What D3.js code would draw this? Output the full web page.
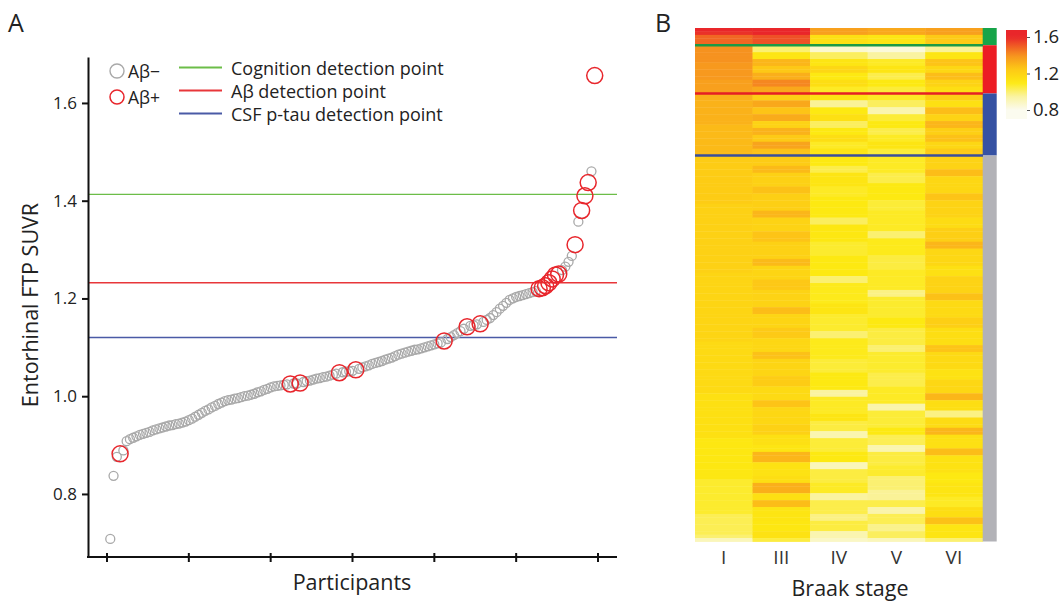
<!DOCTYPE html>
<html>
<head>
<meta charset="utf-8">
<script src="https://cdn.jsdelivr.net/npm/d3@7"></script>
<style>
  body { margin: 0; background: #fff; font-family: "Open Sans", sans-serif; }
</style>
</head>
<body>
<div id="container"></div>
<script>
// ---- panel A data: entorhinal FTP SUVR, participants sorted ascending
let suvr = [
  0.708, 0.837, 0.876, 0.882, 0.889, 0.908, 0.912, 0.915, 0.918, 0.921,
  0.923, 0.925, 0.927, 0.930, 0.932, 0.934, 0.936, 0.938, 0.940, 0.941,
  0.943, 0.944, 0.946, 0.948, 0.951, 0.954, 0.958, 0.962, 0.966, 0.970,
  0.973, 0.977, 0.980, 0.984, 0.987, 0.990, 0.992, 0.993, 0.995, 0.996,
  0.998, 1.000, 1.001, 1.003, 1.005, 1.008, 1.010, 1.013, 1.015, 1.018,
  1.020, 1.021, 1.022, 1.023, 1.024, 1.025, 1.026, 1.026, 1.027, 1.029,
  1.031, 1.032, 1.034, 1.036, 1.037, 1.039, 1.040, 1.042, 1.044, 1.046,
  1.048, 1.049, 1.050, 1.051, 1.052, 1.054, 1.056, 1.059, 1.061, 1.063,
  1.066, 1.068, 1.070, 1.072, 1.075, 1.077, 1.079, 1.082, 1.085, 1.087,
  1.089, 1.091, 1.093, 1.095, 1.096, 1.098, 1.100, 1.102, 1.104, 1.106,
  1.108, 1.110, 1.113, 1.117, 1.121, 1.125, 1.129, 1.133, 1.138, 1.142,
  1.144, 1.145, 1.147, 1.148, 1.152, 1.156, 1.160, 1.166, 1.172, 1.179,
  1.185, 1.191, 1.197, 1.200, 1.203, 1.205, 1.207, 1.209, 1.211, 1.213,
  1.215, 1.220, 1.222, 1.226, 1.232, 1.240, 1.248, 1.250, 1.258, 1.265,
  1.275, 1.287, 1.310, 1.357, 1.380, 1.410, 1.437, 1.460, 1.656
];
// participant numbers (1-based) that are amyloid positive
let abPositive = [4, 56, 59, 71, 76, 103, 110, 114, 132, 133, 134, 135, 136, 137, 138, 143, 145, 146, 147, 149];

let detectionLabels = ["Cognition detection point", "Aβ detection point", "CSF p-tau detection point"];
let detectionValues = [1.413, 1.232, 1.12];
let yTicks = [0.8, 1.0, 1.2, 1.4, 1.6];
let xTicks = [0, 25, 50, 75, 100, 125, 150];

// ---- panel B data: run lengths [rows, SUVR] per Braak stage column, top row = highest
let braakStages = ["I", "III", "IV", "V", "VI"];
let heatI = [[1,1.62],[1,1.58],[3,1.48],[5,1.40],[5,1.38],[4,1.36],[9,1.31],[9,1.29],[14,1.23],[20,1.21],
  [20,1.19],[15,1.17],[13,1.14],[12,1.11],[10,1.07],[6,1.03],[1,1.0],[1,0.9]];
let heatIII = [[1,1.62],[1,1.6],[3,1.52],[2,1.0],[2,1.12],[2,1.3],[2,1.25],[2,1.32],[2,1.42],[2,1.34],
  [2,1.22],[2,1.34],[2,1.26],[2,1.33],[2,1.2],[2,1.31],[2,1.24],[2,1.35],[2,1.27],
  [3,1.23],[2,1.29],[4,1.21],[2,1.27],[5,1.22],[2,1.3],[4,1.2],[3,1.26],[5,1.21],[2,1.29],[4,1.19],[3,1.25],
  [5,1.2],[2,1.28],[4,1.19],[3,1.24],[4,1.18],[2,1.27],[5,1.19],[3,1.23],[4,1.17],[2,1.26],[5,1.18],[3,1.21],
  [3,1.14],[2,1.12],[3,1.3],[4,1.13],[2,1.15],[3,1.32],[2,1.14],[2,1.28],[4,1.12],[3,1.11],[2,1.13],[1,1.05]];
let heatIV = [[2,1.36],[3,1.14],[2,0.86],[2,1.02],[2,1.12],[2,1.18],[2,1.1],[2,1.15],[2,1.08],
  [2,1.12],[2,0.96],[2,1.1],[2,1.14],[2,1.02],[2,1.1],[2,1.15],[2,1.08],[2,1.12],
  [3,1.1],[2,1.04],[4,1.12],[3,1.08],[6,1.1],[2,1.02],[5,1.11],[4,1.07],[6,1.1],[2,1.0],[6,1.09],[3,1.12],
  [5,1.07],[2,1.0],[6,1.09],[4,1.06],[5,1.1],[2,0.95],[5,1.08],[2,1.12],[3,1.05],[2,0.92],[4,1.06],[3,1.1],
  [2,0.9],[4,1.05],[3,1.08],[2,0.95],[4,1.04],[2,0.98],[3,1.05],[2,0.92],[1,0.88]];
let heatV = [[2,1.34],[3,1.12],[2,0.84],[2,0.95],[2,1.08],[2,1.12],[2,1.04],[2,1.1],[2,1.06],
  [2,1.08],[2,1.02],[2,0.92],[2,1.06],[2,1.1],[2,1.04],[2,1.08],[2,1.12],[2,1.06],
  [5,1.08],[3,1.04],[5,1.1],[3,1.06],[6,1.08],[2,1.0],[5,1.09],[4,1.05],[6,1.08],[2,0.98],[6,1.07],[3,1.1],
  [5,1.05],[2,1.0],[6,1.07],[4,1.04],[5,1.08],[2,0.93],[5,1.06],[2,1.1],[3,1.03],[2,0.92],[4,1.05],[3,1.07],
  [4,1.0],[3,0.96],[2,1.04],[2,0.93],[3,1.03],[2,0.97],[2,1.02],[1,0.9]];
let heatVI = [[2,1.36],[3,1.24],[2,0.96],[2,1.12],[2,1.26],[2,1.18],[2,1.28],[2,1.2],[2,1.15],
  [2,1.22],[2,1.14],[2,1.28],[2,1.2],[2,1.3],[2,1.22],[2,1.27],[2,1.18],[2,1.24],
  [4,1.2],[2,1.28],[5,1.18],[2,1.26],[5,1.2],[3,1.16],[4,1.22],[2,1.3],[5,1.18],[3,1.14],[5,1.2],[2,1.27],
  [5,1.17],[3,1.22],[5,1.15],[2,1.26],[5,1.17],[3,1.13],[4,1.18],[2,1.3],[3,1.15],[2,0.98],[3,1.16],[2,1.3],
  [4,1.14],[2,1.28],[5,1.13],[3,1.1],[4,1.12],[3,1.08],[3,1.15],[2,1.27],[4,1.12],[1,1.0]];
// detection group of each row block (top to bottom)
let groupNames = ["cognition", "abeta", "ptau", "none"];
let groupRows = [5, 14, 18, 112];
let colorbarTicks = [0.8, 1.2, 1.6];

// ---- styles
let lineColors = ["#6cbd48", "#e8363a", "#4a5aa6"];
let heatLineColors = ["#1c9a45", "#e51f26", "#3a4f9c"];
let groupColors = { cognition: "#17a449", abeta: "#ec1c24", ptau: "#3652a3", none: "#b2b2b7" };

let width = 1060;
let height = 604;

let svg = d3.select("#container")
  .append("svg")
  .attr("width", width)
  .attr("height", height)
  .style("font-family", "'Open Sans', sans-serif");

// ================= panel A =================
let x = d3.scaleLinear().domain([0, 150]).range([107, 598]);
let y = d3.scaleLinear().domain([0.671, 1.694]).range([557, 57]);

svg.append("text").attr("x", 8).attr("y", 32).text("A")
  .style("font-size", "25px").style("fill", "#222");

// detection lines
svg.selectAll(".detline").data(detectionValues).enter().append("line")
  .attr("class", "detline")
  .attr("x1", 88).attr("x2", 617)
  .attr("y1", d => y(d)).attr("y2", d => y(d))
  .attr("stroke", (d, i) => lineColors[i])
  .attr("stroke-width", 1.4);

let points = suvr.map(function (v, i) {
  return { id: i + 1, value: v, pos: abPositive.indexOf(i + 1) >= 0 };
});

svg.selectAll(".neg").data(points.filter(d => !d.pos)).enter().append("circle")
  .attr("class", "neg")
  .attr("cx", d => x(d.id)).attr("cy", d => y(d.value))
  .attr("r", 4.5)
  .attr("fill", "none")
  .attr("stroke", "#a9a9a9")
  .attr("stroke-width", 1.3);

svg.selectAll(".pos").data(points.filter(d => d.pos)).enter().append("circle")
  .attr("class", "pos")
  .attr("cx", d => x(d.id)).attr("cy", d => y(d.value))
  .attr("r", 8)
  .attr("fill", "none")
  .attr("stroke", "#e8262c")
  .attr("stroke-width", 1.5);

// y axis
let yAxis = svg.append("g")
  .attr("transform", "translate(88,0)")
  .call(d3.axisLeft(y).tickValues(yTicks).tickFormat(d3.format(".1f")).tickSize(6).tickSizeOuter(0).tickPadding(5));
yAxis.select(".domain").attr("stroke", "#111").attr("stroke-width", 2);
yAxis.selectAll(".tick line").attr("stroke", "#111").attr("stroke-width", 2);
yAxis.selectAll(".tick text").style("font-size", "17px").style("fill", "#222")
  .style("font-family", "'Open Sans', sans-serif");

// x axis
svg.append("line").attr("x1", 87).attr("x2", 617).attr("y1", 557).attr("y2", 557)
  .attr("stroke", "#111").attr("stroke-width", 2);
svg.selectAll(".xtick").data(xTicks).enter().append("line")
  .attr("class", "xtick")
  .attr("x1", d => x(d)).attr("x2", d => x(d))
  .attr("y1", 553).attr("y2", 562)
  .attr("stroke", "#111").attr("stroke-width", 2);

svg.append("text").attr("x", 352).attr("y", 590).attr("text-anchor", "middle")
  .text("Participants").style("font-size", "21.5px").style("fill", "#222");
svg.append("text").attr("transform", "translate(38,305) rotate(-90)").attr("text-anchor", "middle")
  .text("Entorhinal FTP SUVR").style("font-size", "21.5px").style("fill", "#222");

// legend
svg.append("circle").attr("cx", 117).attr("cy", 71).attr("r", 7).attr("fill", "none")
  .attr("stroke", "#a9a9a9").attr("stroke-width", 1.4);
svg.append("circle").attr("cx", 117).attr("cy", 97).attr("r", 7).attr("fill", "none")
  .attr("stroke", "#e8262c").attr("stroke-width", 1.5);
svg.append("text").attr("x", 128).attr("y", 71).attr("dominant-baseline", "central")
  .text("Aβ−").style("font-size", "17.5px").style("fill", "#222");
svg.append("text").attr("x", 128).attr("y", 97).attr("dominant-baseline", "central")
  .text("Aβ+").style("font-size", "17.5px").style("fill", "#222");
detectionLabels.forEach(function (label, i) {
  let ly = 67.5 + i * 23;
  svg.append("line").attr("x1", 179).attr("x2", 222).attr("y1", ly).attr("y2", ly)
    .attr("stroke", lineColors[i]).attr("stroke-width", 2);
  svg.append("text").attr("x", 231).attr("y", ly).attr("dominant-baseline", "central")
    .text(label).style("font-size", "18px").style("fill", "#222");
});

// ================= panel B =================
svg.append("text").attr("x", 655).attr("y", 32).text("B")
  .style("font-size", "25px").style("fill", "#222");

let heatColor = d3.scaleLinear()
  .domain([0.8, 0.95, 1.1, 1.25, 1.4, 1.6])
  .range(["#fbfbef", "#faf3a0", "#fde912", "#fdc816", "#f6921f", "#e9262a"])
  .clamp(true);

function expandRuns(runs) {
  let rows = [];
  runs.forEach(function (r) { for (let k = 0; k < r[0]; k++) rows.push(r[1]); });
  return rows;
}

let heatColumns = [heatI, heatIII, heatIV, heatV, heatVI].map(expandRuns);
let nRows = d3.sum(groupRows);

let colX = d3.scaleBand().domain(braakStages).range([695, 982.7]);
let rowY = d3.scaleBand().domain(d3.range(nRows)).range([28, 541.5]);

let cells = [];
heatColumns.forEach(function (col, c) {
  col.forEach(function (v, r) { cells.push({ stage: braakStages[c], row: r, value: v }); });
});

svg.append("g").selectAll("rect").data(cells).enter().append("rect")
  .attr("x", d => colX(d.stage))
  .attr("y", d => rowY(d.row))
  .attr("width", colX.bandwidth() + 0.4)
  .attr("height", rowY.bandwidth() + 0.4)
  .attr("fill", d => heatColor(d.value));

// group side bar
let groupStart = 0;
groupNames.forEach(function (g, i) {
  svg.append("rect")
    .attr("x", 982.7).attr("width", 14)
    .attr("y", rowY(groupStart))
    .attr("height", rowY.bandwidth() * groupRows[i])
    .attr("fill", groupColors[g]);
  if (i > 0) {
    svg.append("line")
      .attr("x1", 695).attr("x2", 983)
      .attr("y1", rowY(groupStart)).attr("y2", rowY(groupStart))
      .attr("stroke", heatLineColors[i - 1]).attr("stroke-width", 2.6);
  }
  groupStart += groupRows[i];
});

// stage labels
svg.selectAll(".stage").data(braakStages).enter().append("text")
  .attr("class", "stage")
  .attr("x", d => colX(d) + colX.bandwidth() / 2)
  .attr("y", 557).attr("dominant-baseline", "central").attr("text-anchor", "middle")
  .text(d => d).style("font-size", "19px").style("fill", "#333");
svg.append("text").attr("x", 850).attr("y", 596).attr("text-anchor", "middle")
  .text("Braak stage").style("font-size", "21.5px").style("fill", "#222");

// colorbar
let cbY = d3.scaleLinear().domain([0.8, 1.6]).range([110, 37]);
let defs = svg.append("defs");
let grad = defs.append("linearGradient").attr("id", "cbgrad")
  .attr("x1", 0).attr("y1", 1).attr("x2", 0).attr("y2", 0);
let cbLow = cbY.invert(119), cbHigh = cbY.invert(30);
d3.range(0, 1.0001, 0.05).forEach(function (t) {
  grad.append("stop").attr("offset", t).attr("stop-color", heatColor(cbLow + t * (cbHigh - cbLow)));
});
svg.append("rect").attr("x", 1006).attr("y", 30).attr("width", 21).attr("height", 89)
  .attr("fill", "url(#cbgrad)");
let cbAxis = svg.append("g").attr("transform", "translate(1027,0)")
  .call(d3.axisRight(cbY).tickValues(colorbarTicks).tickFormat(d3.format(".1f")).tickSize(3).tickPadding(3));
cbAxis.select(".domain").remove();
cbAxis.selectAll(".tick line").attr("stroke", "#555");
cbAxis.selectAll(".tick text").style("font-size", "18.5px").style("fill", "#222")
  .style("font-family", "'Open Sans', sans-serif");
</script>
</body>
</html>
